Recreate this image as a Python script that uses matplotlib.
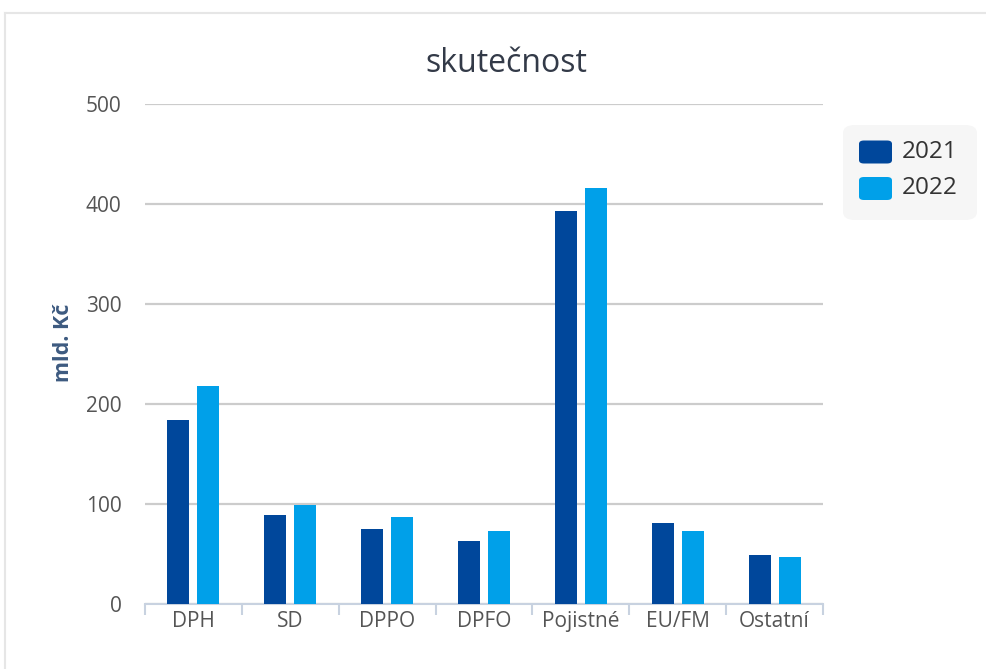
import numpy as np
import matplotlib.pyplot as plt
from matplotlib.patches import FancyBboxPatch
from matplotlib.lines import Line2D

# data
categories = ['DPH', 'SD', 'DPPO', 'DPFO', 'Pojistné', 'EU/FM', 'Ostatní']
v2021 = [184, 89, 75, 63, 393, 81, 49]
v2022 = [218, 99, 87, 73, 416, 73, 47]
series_labels = ['2021', '2022']
colors = ['#00479b', '#00a0e9']

plt.rcParams['font.family'] = ['Open Sans', 'DejaVu Sans']

fig = plt.figure(figsize=(9.87, 6.69), dpi=100)
W, H = 987, 669

# okraj karty (nahoře a vlevo)
fig.add_artist(Line2D([5 / W, 1], [1 - 13 / H, 1 - 13 / H], color='#e6e6e6', lw=1.5))
fig.add_artist(Line2D([5 / W, 5 / W], [0, 1 - 13 / H], color='#e6e6e6', lw=1.5))

ax = fig.add_axes([145 / W, 1 - 604 / H, 678 / W, 500 / H])

x = np.arange(len(categories))
bw = 0.227
gap = 0.082
ax.bar(x - (bw + gap) / 2, v2021, width=bw, color=colors[0], zorder=3)
ax.bar(x + (bw + gap) / 2, v2022, width=bw, color=colors[1], zorder=3)

ax.set_xlim(-0.5, len(categories) - 0.5)
ax.set_ylim(0, 500)
ax.set_yticks([0, 100, 200, 300, 400, 500])
ax.yaxis.grid(True, color='#cccccc', lw=1.6, zorder=0)
ax.set_axisbelow(True)

for s in ['top', 'right', 'left']:
    ax.spines[s].set_visible(False)
ax.spines['bottom'].set_color('#c8d2e0')
ax.spines['bottom'].set_linewidth(1.5)

ax.set_xticks(x)
ax.set_xticklabels(categories)
ax.set_xticks(np.arange(len(categories) + 1) - 0.5, minor=True)
ax.tick_params(axis='x', which='major', length=0, pad=5, labelsize=15, labelcolor='#555555')
ax.tick_params(axis='x', which='minor', length=8, width=1.5, color='#c8d2e0')
ax.tick_params(axis='y', length=0, pad=17, labelsize=15, labelcolor='#555555')

ax.set_ylabel('mld. Kč', fontsize=15.5, fontweight='bold', color='#3d5a80')
ax.yaxis.set_label_coords((74 - 145) / 678, (604 - 343) / 500)

fig.text(506 / W, 1 - 64 / H, 'skutečnost', ha='center', va='center',
         fontsize=23, color='#333a48')

# legenda
fig.add_artist(FancyBboxPatch((843 / W, 1 - 220 / H), 134 / W, 95 / H,
                              boxstyle='round,pad=0,rounding_size=0.012',
                              fc='#f6f6f6', ec='none', transform=fig.transFigure))
for i, (lab, c) in enumerate(zip(series_labels, colors)):
    yc = 1 - (152 + i * 36.5) / H
    fig.add_artist(FancyBboxPatch((859 / W, yc - 11.5 / H), 33 / W, 23 / H,
                                  boxstyle='round,pad=0,rounding_size=0.005',
                                  fc=c, ec='none', transform=fig.transFigure))
    fig.text(902 / W, yc, lab, ha='left', va='center', fontsize=17.5, color='#333333')

fig.savefig('out.png', dpi=100)
